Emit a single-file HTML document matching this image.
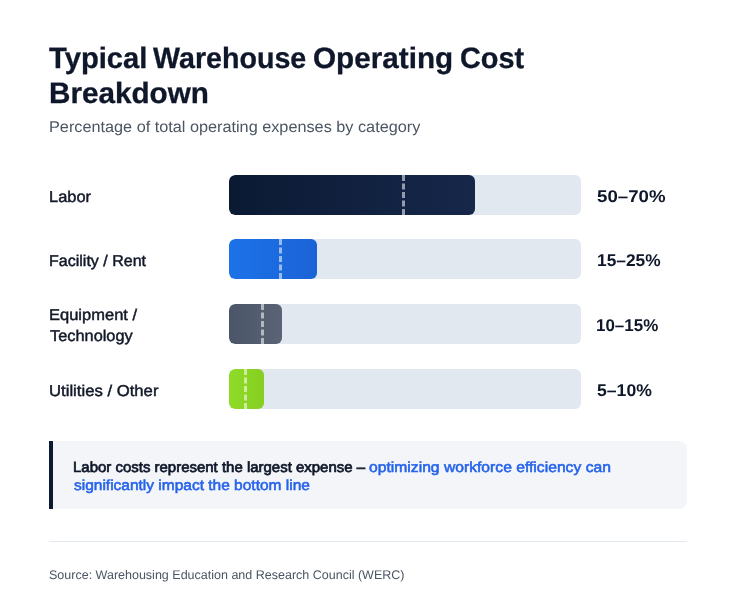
<!DOCTYPE html>
<html lang="en">
<head>
<meta charset="utf-8">
<title>Typical Warehouse Operating Cost Breakdown</title>
<style>
*{box-sizing:border-box;margin:0;padding:0}
html,body{width:741px;height:616px;background:#fff;overflow:hidden}
body{font-family:"Liberation Sans",sans-serif;color:#0f172a;position:relative;text-rendering:geometricPrecision}
.abs,h1 span,.call span{transform-origin:0 0}
.abs{position:absolute;white-space:nowrap}
h1{font-size:29.5px;line-height:35px;font-weight:700;color:#0f172a;-webkit-text-stroke:0.3px #0f172a;position:absolute;left:0;top:0;width:741px;height:112px}
h1 span{position:absolute;white-space:nowrap;left:49px}
.sub{left:49px;font-size:15.7px;line-height:20px;color:#4b5563}
.lbl{left:49px;font-size:15.7px;line-height:21px;color:#111827;font-weight:400;-webkit-text-stroke:0.45px #111827}
.track{position:absolute;left:229px;width:352px;height:40px;border-radius:6px;background:#e2e8f0;overflow:hidden}
.fill{position:absolute;left:0;top:0;height:40px;border-radius:6px}
.mark{position:absolute;top:0;height:40px;width:0;border-left:3px dashed rgba(255,255,255,.55)}
.val{left:597px;font-size:17px;line-height:20px;font-weight:700;color:#0f172a}
.call{position:absolute;left:49px;top:441px;width:638px;height:68px;background:#f4f5f8;border-left:4px solid #0b1a33;border-radius:0 8px 8px 0}
.call p{position:absolute;left:0;top:0;font-size:14.6px;line-height:18px;font-weight:400;color:#0f172a;-webkit-text-stroke:0.7px #0f172a}
.call span{position:absolute;white-space:nowrap}
.call .b{color:#2563eb;-webkit-text-stroke:0.55px #2563eb}
.hr{position:absolute;left:49px;top:541px;width:638px;height:1px;background:#e2e8f0}
.src{left:49px;font-size:12.5px;line-height:16px;color:#4b5563}
</style>
</head>
<body>
<h1><span id="t1a" style="top:41.21px;transform:scaleX(0.9888);left:49.00px">Typical</span> <span id="t1b" style="top:41.21px;transform:scaleX(0.9707);left:153.00px">Warehouse</span> <span id="t1c" style="top:41.21px;transform:scaleX(1.0063);left:313.00px">Operating</span> <span id="t1d" style="top:41.21px;transform:scaleX(0.9785);left:460.00px">Cost</span> <span id="t2" style="top:76.11px;transform:scaleX(1.0056);left:49.00px">Breakdown</span></h1>
<div class="abs sub" id="sub" style="top:117.61px;transform:scaleX(1.0359);left:49.00px">Percentage of total operating expenses by category</div>

<div class="abs lbl" id="l1" style="top:186.91px;transform:scaleX(1.0465);left:49.00px">Labor</div>
<div class="track" style="top:175px"><div class="fill" style="width:246.4px;background:linear-gradient(90deg,#0b1a33,#16274a)"></div><div class="mark" style="left:173px"></div></div>
<div class="abs val" id="v1" style="top:186.91px;transform:scaleX(1.0980);left:597.00px">50–70%</div>

<div class="abs lbl" id="l2" style="top:251.00px;transform:scaleX(1.0214);left:49.00px">Facility / Rent</div>
<div class="track" style="top:239px"><div class="fill" style="width:88px;background:linear-gradient(90deg,#1d72e8,#1a63d6)"></div><div class="mark" style="left:49.8px"></div></div>
<div class="abs val" id="v2" style="top:250.61px;transform:scaleX(1.0187);left:597.00px">15–25%</div>

<div class="abs lbl" id="l3a" style="top:305.21px;transform:scaleX(1.0519);left:49.00px">Equipment /</div>
<div class="abs lbl" id="l3b" style="top:325.91px;transform:scaleX(1.0424);left:50.00px">Technology</div>
<div class="track" style="top:304px"><div class="fill" style="width:52.8px;background:linear-gradient(90deg,#4a5568,#5b6477)"></div><div class="mark" style="left:32.2px"></div></div>
<div class="abs val" id="v3" style="top:316.00px;transform:scaleX(0.9970);left:596.00px">10–15%</div>

<div class="abs lbl" id="l4" style="top:380.50px;transform:scaleX(1.0640);left:49.00px">Utilities / Other</div>
<div class="track" style="top:369px"><div class="fill" style="width:35.2px;background:linear-gradient(90deg,#8fdc28,#86cf22)"></div><div class="mark" style="left:14.6px"></div></div>
<div class="abs val" id="v4" style="top:380.61px;transform:scaleX(1.0361);left:597.00px">5–10%</div>

<div class="call"><p><span id="c1" style="top:17.80px;transform:scaleX(1.0256);left:20.00px">Labor costs represent the largest expense –</span> <span class="b" id="c2" style="top:17.80px;transform:scaleX(1.0741);left:315.50px">optimizing workforce efficiency can</span> <span class="b" id="c3" style="top:35.61px;transform:scaleX(1.0612);left:21.00px">significantly impact the bottom line</span></p></div>
<div class="hr"></div>
<div class="abs src" id="src" style="top:567.00px;transform:scaleX(1.0006);left:49.00px">Source: Warehousing Education and Research Council (WERC)</div>
</body>
</html>
